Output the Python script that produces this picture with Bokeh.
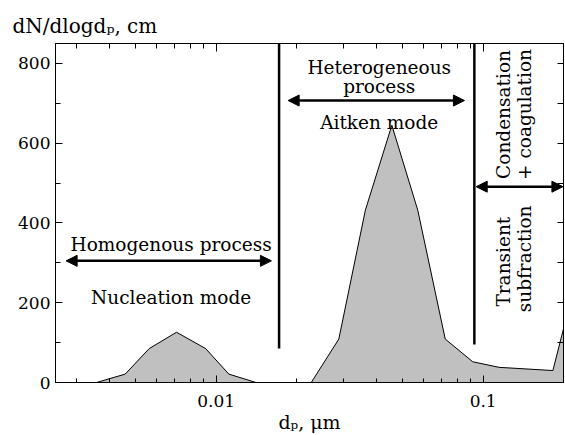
import numpy as np
from bokeh.plotting import figure
from bokeh.models import (FixedTicker, LogAxis, LinearAxis, Label, Arrow, NormalHead,
                          CustomJSTickFormatter, Range1d)
from bokeh.embed import file_html
from bokeh.resources import INLINE

# ---------------- data ----------------
dp_um = [0.00356, 0.00456, 0.00561, 0.0071, 0.00913, 0.01115, 0.0141, 0.0227,
         0.0288, 0.0362, 0.0455, 0.0569, 0.0721, 0.0914, 0.1148, 0.1825, 0.2]
dN_dlogdp = [0, 21, 85, 126, 85, 21, 0, 0,
             109, 432, 645, 432, 109, 52, 38, 30, 135]

x_major = [0.01, 0.1]
x_minor = [0.003, 0.004, 0.005, 0.006, 0.007, 0.008, 0.009,
           0.02, 0.03, 0.04, 0.05, 0.06, 0.07, 0.08, 0.09, 0.2]
y_major = [0, 200, 400, 600, 800]
y_minor = [100, 300, 500, 700]

boundary_dp = [0.0172, 0.0927]
boundary_bottom = [85, 95]
boundary_top = [850, 850]

arrow_x_start = [0.00274, 0.0186, 0.0942]
arrow_x_end = [0.0161, 0.0851, 0.199]
arrow_y = [305, 707, 491]

FONT = "DejaVu Serif"
TXT = "18.5px"

p = figure(width=565, height=435, x_axis_type="log",
           x_range=Range1d(0.0025, 0.2), y_range=Range1d(0, 850),
           output_backend="svg", toolbar_location=None,
           min_border_left=55, min_border_right=2, min_border_top=43, min_border_bottom=52)
p.xgrid.visible = False
p.ygrid.visible = False
p.outline_line_color = "black"
p.outline_line_width = 1
p.background_fill_color = "white"
p.border_fill_color = "white"

# heading (y quantity)
p.title.text = "dN/dlogdₚ, cm"
p.title.text_font = FONT
p.title.text_font_size = "20px"
p.title.text_font_style = "normal"
p.title.text_color = "black"
p.title.align = "left"
p.title.offset = -43
p.title.standoff = 12

# filled distribution
p.varea(x=dp_um, y1=[0] * len(dp_um), y2=dN_dlogdp, fill_color="#c0c0c0")
p.line(x=dp_um, y=dN_dlogdp, line_color="black", line_width=1)

# boundary lines
p.segment(x0=boundary_dp, y0=boundary_bottom, x1=boundary_dp, y1=boundary_top,
          line_color="black", line_width=2.5)

# arrows
for xs, xe, ya in zip(arrow_x_start, arrow_x_end, arrow_y):
    p.add_layout(Arrow(x_start=xs, y_start=ya, x_end=xe, y_end=ya, line_width=2.5,
                       line_color="black",
                       start=NormalHead(size=11, fill_color="black", line_color="black", line_width=1),
                       end=NormalHead(size=11, fill_color="black", line_color="black", line_width=1)))

# axes styling
def style_axis(ax, major_in, minor_in):
    ax.major_tick_in = major_in
    ax.major_tick_out = 0
    ax.minor_tick_in = minor_in
    ax.minor_tick_out = 0
    ax.axis_line_color = "black"
    ax.major_tick_line_color = "black"
    ax.minor_tick_line_color = "black"
    ax.major_label_text_font = FONT
    ax.major_label_text_font_size = "17px"
    ax.major_label_text_color = "black"

xax = p.xaxis[0]
xax.ticker = FixedTicker(ticks=x_major, minor_ticks=x_minor)
xax.formatter = CustomJSTickFormatter(code="return tick.toString()")
style_axis(xax, 7, 4)
xax.major_label_standoff = 12
xax.axis_label = "dₚ, μm"
xax.axis_label_text_font = FONT
xax.axis_label_text_font_size = "19px"
xax.axis_label_text_font_style = "normal"
xax.axis_label_standoff = 1
xax.axis_label_text_color = "black"

yax = p.yaxis[0]
yax.ticker = FixedTicker(ticks=y_major, minor_ticks=y_minor)
style_axis(yax, 7, 5)
yax.major_label_standoff = 5

top = LogAxis(ticker=FixedTicker(ticks=x_major, minor_ticks=x_minor),
              formatter=CustomJSTickFormatter(code="return ''"))
style_axis(top, 8, 5)
top.major_label_standoff = 0
top.major_label_text_font_size = "1px"
p.add_layout(top, "above")

right = LinearAxis(ticker=FixedTicker(ticks=y_major, minor_ticks=y_minor),
                   formatter=CustomJSTickFormatter(code="return ''"))
style_axis(right, 6, 6)
right.major_label_standoff = 0
right.major_label_text_font_size = "1px"
p.add_layout(right, "right")

# text annotations
def lab(text, x, y, size=TXT, angle=0.0):
    p.add_layout(Label(x=x, y=y, text=text, text_font=FONT, text_font_size=size,
                       text_font_style="normal", text_align="center",
                       text_baseline="alphabetic", angle=angle, text_color="black"))

lab("Homogenous process", 0.00678, 345)
lab("Nucleation mode", 0.00678, 214)
lab("Heterogeneous", 0.0408, 789)
lab("process", 0.0408, 741)
lab("Aitken mode", 0.0408, 653)
lab("Condensation", 0.1188, 672, angle=np.pi / 2)
lab("+ coagulation", 0.1424, 672, angle=np.pi / 2)
lab("Transient", 0.1188, 303, angle=np.pi / 2)
lab("subfraction", 0.1424, 310, angle=np.pi / 2)

open("out.html", "w").write(file_html(p, INLINE))
